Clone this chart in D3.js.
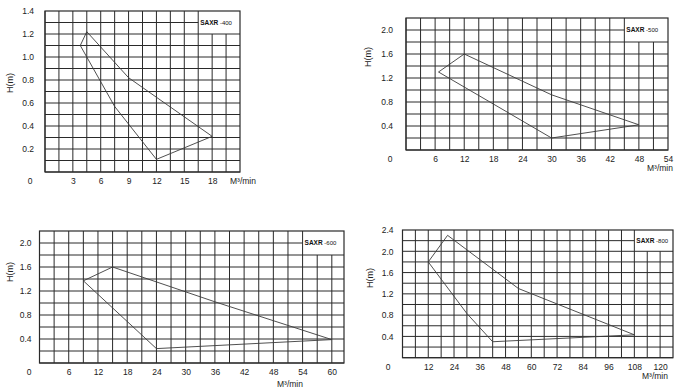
<!DOCTYPE html>
<html>
<head>
<meta charset="utf-8">
<script src="https://cdn.jsdelivr.net/npm/d3@7"></script>
<style>
  body { margin: 0; background: #fff; }
  svg { display: block; font-family: "Liberation Sans", Arial, sans-serif; }
</style>
</head>
<body>
<svg id="chart" width="680" height="391"></svg>
<script>
// model names
const models = ["SAXR", "SAXR", "SAXR", "SAXR"];
const modelSizes = ["-400", "-500", "-600", "-800"];

// operating range outlines: flow (M3/min) and head (m)
const flow400 = [4.5, 3.8, 7.5, 12, 18, 9];
const head400 = [1.22, 1.1, 0.57, 0.11, 0.31, 0.82];
const flow500 = [12, 6.7, 30, 48, 30];
const head500 = [1.6, 1.3, 0.2, 0.42, 0.92];
const flow600 = [15, 9, 24, 60, 36];
const head600 = [1.6, 1.37, 0.24, 0.39, 1.02];
const flow800 = [21, 12, 30, 42, 108, 54];
const head800 = [2.3, 1.8, 0.83, 0.3, 0.43, 1.3];

// tick labels
const xTicks400 = [3, 6, 9, 12, 15, 18];
const xTicks500 = [6, 12, 18, 24, 30, 36, 42, 48, 54];
const xTicks600 = [6, 12, 18, 24, 30, 36, 42, 48, 54, 60];
const xTicks800 = [12, 24, 36, 48, 60, 72, 84, 96, 108, 120];
const yTicks400 = [0.2, 0.4, 0.6, 0.8, 1.0, 1.2, 1.4];
const yTicks500 = [0.4, 0.8, 1.2, 1.6, 2.0];
const yTicks600 = [0.4, 0.8, 1.2, 1.6, 2.0];
const yTicks800 = [0.4, 0.8, 1.2, 1.6, 2.0, 2.4];

const flows = [flow400, flow500, flow600, flow800];
const heads = [head400, head500, head600, head800];
const xTicks = [xTicks400, xTicks500, xTicks600, xTicks800];
const yTicks = [yTicks400, yTicks500, yTicks600, yTicks800];

// layout of the four panels (pixels + axis extents)
const panels = [
  { left: 45, right: 240, top: 11, bottom: 172, xMax: 21, xGrid: 1.5, yMax: 1.4, yGrid: 0.1,
    boxX: 16.5, boxY: 1.2, yPad: 11, hX: 10, hY: 83, zeroX: 30, unitX: 230, unitY: 181 },
  { left: 406, right: 668, top: 18, bottom: 150, xMax: 54, xGrid: 3, yMax: 2.2, yGrid: 0.2,
    boxX: 45, boxY: 1.8, yPad: 13, hX: 368, hY: 57, zeroX: 390, unitX: 647, unitY: 168 },
  { left: 39.5, right: 344, top: 231, bottom: 363, xMax: 62.5, xGrid: 3, yMax: 2.2, yGrid: 0.2,
    boxX: 54, boxY: 1.8, yPad: 8, hX: 10, hY: 272, zeroX: 29, unitX: 277, unitY: 384 },
  { left: 402.5, right: 673, top: 230, bottom: 357.7, xMax: 126, xGrid: 6, yMax: 2.4, yGrid: 0.2,
    boxX: 108, boxY: 2.0, yPad: 9, hX: 370, hY: 278, zeroX: 388, unitX: 642, unitY: 376 }
];

const svg = d3.select("#chart");
const lineColor = "#2a2a2a";

panels.forEach((p, i) => {
  const x = d3.scaleLinear().domain([0, p.xMax]).range([p.left, p.right]);
  const y = d3.scaleLinear().domain([0, p.yMax]).range([p.bottom, p.top]);
  const g = svg.append("g");
  const eps = 1e-6;

  // grid, left open in the label box corner
  const vx = d3.range(0, p.xMax + eps, p.xGrid).filter(v => v < p.xMax - eps);
  const hy = d3.range(0, p.yMax + eps, p.yGrid).filter(v => v < p.yMax - eps);
  g.selectAll(".vg").data(vx).join("line")
    .attr("x1", d => x(d)).attr("x2", d => x(d))
    .attr("y1", d => d > p.boxX + eps ? y(p.boxY) : y(p.yMax))
    .attr("y2", y(0))
    .attr("stroke", lineColor).attr("stroke-width", 1);
  g.selectAll(".hg").data(hy).join("line")
    .attr("y1", d => y(d)).attr("y2", d => y(d))
    .attr("x1", x(0))
    .attr("x2", d => d > p.boxY + eps ? x(p.boxX) : x(p.xMax))
    .attr("stroke", lineColor).attr("stroke-width", 1);
  g.append("rect")
    .attr("x", x(0)).attr("y", y(p.yMax))
    .attr("width", x(p.xMax) - x(0)).attr("height", y(0) - y(p.yMax))
    .attr("fill", "none").attr("stroke", lineColor).attr("stroke-width", 1.2);

  // model label box text
  const lbl = g.append("text")
    .attr("x", x(p.boxX) + 2)
    .attr("y", (y(p.boxY) + y(p.yMax)) / 2 + 2)
    .attr("font-size", 6.5).attr("fill", "#111");
  lbl.append("tspan").attr("font-weight", "bold").text(models[i]);
  lbl.append("tspan").attr("font-size", 6).text(" " + modelSizes[i]);

  // outline polygon
  const pts = flows[i].map((f, k) => [x(f), y(heads[i][k])]);
  g.append("path")
    .attr("d", d3.line()(pts) + "Z")
    .attr("fill", "none").attr("stroke", "#3c3c3c").attr("stroke-width", 0.9);

  // axes
  const xAxis = g.append("g")
    .attr("transform", `translate(0,${p.bottom})`)
    .call(d3.axisBottom(x).tickValues(xTicks[i]).tickSize(0).tickPadding(6).tickFormat(d3.format("d")));
  const yAxis = g.append("g")
    .attr("transform", `translate(${p.left},0)`)
    .call(d3.axisLeft(y).tickValues(yTicks[i]).tickSize(0).tickPadding(p.yPad).tickFormat(d3.format(".1f")));
  [xAxis, yAxis].forEach(a => {
    a.select(".domain").remove();
    a.selectAll("text").attr("font-size", 8.5).attr("fill", "#222")
      .attr("font-family", "Liberation Sans, Arial, sans-serif");
  });

  // origin, unit and axis title
  g.append("text").attr("x", p.zeroX).attr("y", p.bottom + 12)
    .attr("text-anchor", "middle").attr("font-size", 8.5).attr("fill", "#222").text("0");
  g.append("text").attr("x", p.unitX).attr("y", p.unitY + 3)
    .attr("font-size", 8.5).attr("fill", "#222").text("M³/min");
  g.append("text")
    .attr("transform", `translate(${p.hX + 3},${p.hY}) rotate(-90)`)
    .attr("text-anchor", "middle").attr("font-size", 9).attr("fill", "#222").text("H(m)");
});
</script>
</body>
</html>
